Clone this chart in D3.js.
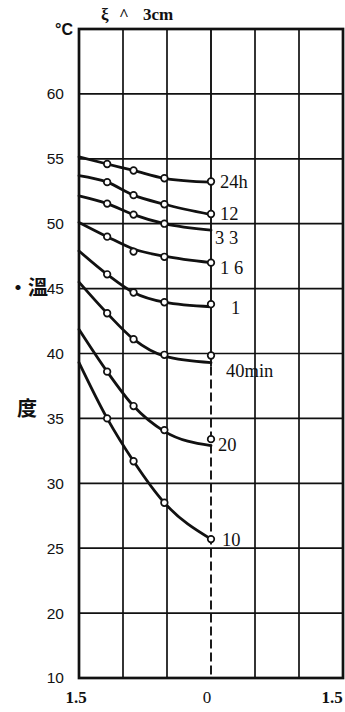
<!DOCTYPE html>
<html>
<head>
<meta charset="utf-8">
<script src="https://cdn.jsdelivr.net/npm/d3@7"></script>
<style>
  html, body { margin: 0; padding: 0; background: #fff; }
  svg { display: block; }
</style>
</head>
<body>
<svg id="chart" width="345" height="712"></svg>
<script>
// Temperature profiles across the section (distance from centre, cm) at depth 3 cm
const seriesNames = ["24h", "12", "3 3", "1 6", "1", "40min", "20", "10"];
// positions (cm) where readings were taken
const markerX = [-1.18, -0.88, -0.53, 0];
// measured temperatures at markerX (null = no reading drawn)
const markerValues = [
  [54.6, 54.1, 53.5, 53.25],
  [53.2, 52.2, 51.5, 50.75],
  [51.55, 50.7, 50.0, null],
  [49.0, 47.85, 47.45, 47.0],
  [46.1, 44.7, 43.95, 43.8],
  [43.1, 41.1, 39.9, 39.85],
  [38.6, 35.95, 34.1, 33.4],
  [35.0, 31.7, 28.5, 25.7]
];
// fitted curve: value at the surface edge (-1.5) and at the centre (0)
const curveStart = [55.15, 53.7, 52.15, 50.1, 47.9, 45.5, 41.85, 39.3];
const curveEnd   = [53.2, 50.7, 49.5, 47.0, 43.6, 39.3, 32.9, 25.7];
// fitted curve values at markerX (first three positions)
const curveMid = [
  [54.6, 54.1, 53.5],
  [53.2, 52.2, 51.5],
  [51.55, 50.7, 50.0],
  [49.0, 48.05, 47.5],
  [46.1, 44.7, 43.95],
  [43.1, 41.1, 39.8],
  [38.6, 35.95, 34.0],
  [35.0, 31.7, 28.5]
];

const xTicks = [-1.5, -1, -0.5, 0, 0.5, 1, 1.5];
const xTickLabels = ["1.5", "0", "1.5"];
const xTickLabelAt = [-1.5, 0, 1.5];
const yTicks = [15, 20, 25, 30, 35, 40, 45, 50, 55, 60, 65];
const yTickLabels = ["10", "20", "25", "30", "35", "40", "45", "50", "55", "60", ""];

const svg = d3.select("#chart");
const x = d3.scaleLinear().domain([-1.5, 1.5]).range([79, 343]);
const y = d3.scaleLinear().domain([15, 65]).range([678, 29]);

// grid
const grid = svg.append("g").attr("stroke", "#111").attr("fill", "none");
grid.selectAll("line.h").data(yTicks.slice(1, -1)).join("line")
  .attr("x1", x(-1.5)).attr("x2", x(1.5))
  .attr("y1", d => y(d)).attr("y2", d => y(d))
  .attr("stroke-width", 1.7);
grid.selectAll("line.v").data(xTicks.filter(d => d !== 0 && Math.abs(d) !== 1.5)).join("line")
  .attr("x1", d => x(d)).attr("x2", d => x(d))
  .attr("y1", y(65)).attr("y2", y(15))
  .attr("stroke-width", 1.7);
// centre line: solid through the curves, dashed below
grid.append("line")
  .attr("x1", x(0)).attr("x2", x(0)).attr("y1", y(65)).attr("y2", y(39))
  .attr("stroke-width", 1.9);
grid.append("line")
  .attr("x1", x(0)).attr("x2", x(0)).attr("y1", y(39)).attr("y2", y(15))
  .attr("stroke-width", 1.9).attr("stroke-dasharray", "9,4");
// frame
grid.append("rect")
  .attr("x", x(-1.5)).attr("y", y(65))
  .attr("width", x(1.5) - x(-1.5)).attr("height", y(15) - y(65))
  .attr("stroke-width", 2.7);

// curves
const line = d3.line().x(d => x(d[0])).y(d => y(d[1])).curve(d3.curveMonotoneX);
const curves = seriesNames.map((name, i) => {
  const pts = [[-1.5, curveStart[i]]];
  curveMid[i].forEach((v, j) => pts.push([markerX[j], v]));
  pts.push([0, curveEnd[i]]);
  return pts;
});
svg.append("g").selectAll("path").data(curves).join("path")
  .attr("d", line)
  .attr("fill", "none").attr("stroke", "#111").attr("stroke-width", 2.8)
  .attr("stroke-linecap", "round");

// markers
const pts = [];
markerValues.forEach((vals, i) => vals.forEach((v, j) => {
  if (v !== null) pts.push({ x: markerX[j], v });
}));
svg.append("g").selectAll("circle").data(pts).join("circle")
  .attr("cx", d => x(d.x)).attr("cy", d => y(d.v)).attr("r", 3.3)
  .attr("fill", "#fff").attr("stroke", "#111").attr("stroke-width", 1.7);

// curve labels
const labelNudge = [[9, 0], [9, 0], [4, 7], [9, 5], [20, 3], [15, 15], [7, 5], [11, 0]];
svg.append("g").selectAll("text").data(seriesNames).join("text")
  .attr("x", (d, i) => x(0) + labelNudge[i][0])
  .attr("y", (d, i) => {
    const last = markerValues[i][3] !== null ? markerValues[i][3] : curveEnd[i];
    return y(last) + labelNudge[i][1];
  })
  .attr("dy", "0.35em")
  .attr("font-family", "'Liberation Serif', serif").attr("font-size", 18.5)
  .attr("fill", "#111")
  .text(d => d);

// y tick labels
svg.append("g").selectAll("text").data(yTicks).join("text")
  .attr("x", 64).attr("y", d => y(d)).attr("dy", "0.35em")
  .attr("text-anchor", "end")
  .attr("font-family", "'Liberation Sans', sans-serif").attr("font-size", 15.5)
  .attr("fill", "#111")
  .text((d, i) => yTickLabels[i]);

// x tick labels
svg.append("g").selectAll("text").data(xTickLabelAt).join("text")
  .attr("x", (d, i) => x(d) + (i === 1 ? -4 : (i === 0 ? -3 : -11)))
  .attr("y", 703)
  .attr("text-anchor", "middle")
  .attr("font-family", "'Liberation Serif', serif").attr("font-size", 17)
  .attr("font-weight", (d, i) => i === 1 ? "normal" : "bold")
  .attr("fill", "#111")
  .text((d, i) => xTickLabels[i]);

// unit and axis title
svg.append("text").attr("x", 73).attr("y", y(65)).attr("dy", "0.35em")
  .attr("text-anchor", "end")
  .attr("font-family", "'Liberation Sans', sans-serif").attr("font-size", 16)
  .attr("font-weight", "bold").attr("fill", "#111").text("°C");
svg.append("text").attr("x", 8).attr("y", 288).attr("dy", "0.35em")
  .attr("font-family", "'Noto Sans CJK TC', sans-serif").attr("font-size", 20)
  .attr("font-weight", "bold").attr("fill", "#111").text("·溫");
svg.append("text").attr("x", 17).attr("y", 409).attr("dy", "0.35em")
  .attr("font-family", "'Noto Sans CJK TC', sans-serif").attr("font-size", 20)
  .attr("font-weight", "bold").attr("fill", "#111").text("度");

// depth note above the frame
const note = svg.append("text").attr("y", 20)
  .attr("font-family", "'Liberation Serif', serif").attr("font-size", 17)
  .attr("font-weight", "bold").attr("fill", "#111");
note.append("tspan").attr("x", 101).text("ξ");
note.append("tspan").attr("x", 119).text("^");
note.append("tspan").attr("x", 143).text("3cm");
</script>
</body>
</html>
